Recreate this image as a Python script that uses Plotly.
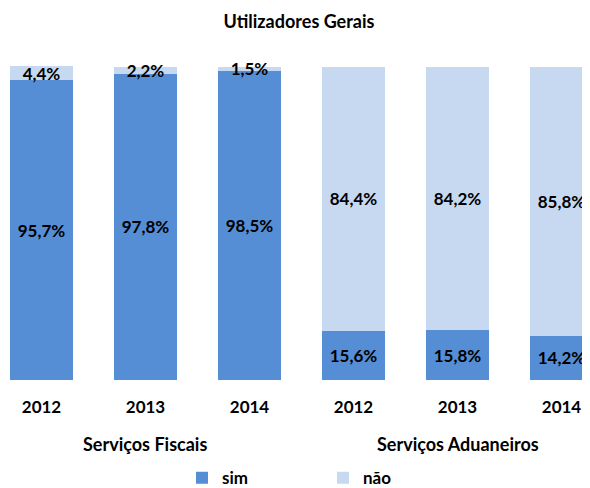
import plotly.graph_objects as go

title = "Utilizadores Gerais"
years = ["2012", "2013", "2014", "2012", "2013", "2014"]
groups = ["Serviços Fiscais", "Serviços Aduaneiros"]
sim = [95.7, 97.8, 98.5, 15.6, 15.8, 14.2]
nao = [4.4, 2.2, 1.5, 84.4, 84.2, 85.8]
series_names = ["sim", "não"]

FONT = "Lato"
DARK = "#558ED5"
LIGHT = "#C6D9F1"

W, H = 582, 480  # page has an 8px body margin

xs = list(range(len(years)))

def fmt(v):
    return f"{v:.1f}".replace(".", ",") + "%"

fig = go.Figure()
for name, vals, col in [(series_names[0], sim, DARK), (series_names[1], nao, LIGHT)]:
    fig.add_trace(go.Bar(
        x=xs, y=vals, name=name, marker=dict(color=col, line=dict(width=0)),
        width=0.606,
        text=[fmt(v) for v in vals], textposition="inside", insidetextanchor="middle",
        textangle=0, constraintext="none", cliponaxis=False,
        textfont=dict(family=FONT, size=17, color="black", weight="bold"),
        hoverinfo="skip",
    ))

fig.update_layout(
    barmode="stack",
    width=W, height=H,
    margin=dict(l=0, r=0, t=58, b=108, autoexpand=False),
    paper_bgcolor="white", plot_bgcolor="white",
    font=dict(family=FONT, color="black"),
    title=dict(text=f"<b>{title}</b>", x=0.5, xanchor="center", y=1 - 14 / H, yanchor="middle",
               font=dict(family=FONT, size=18, color="black")),
    xaxis=dict(range=[-0.322, 5.274], tickvals=xs, ticktext=[f"<b>{y}</b>" for y in years],
               tickfont=dict(family=FONT, size=17, color="black"), showgrid=False, zeroline=False,
               showline=False, ticks="", ticklabelstandoff=15),
    yaxis=dict(range=[0, 100.2], visible=False),
    legend=dict(orientation="h", x=174 / W, xanchor="left", y=-0.3125, yanchor="middle",
                font=dict(family=FONT, size=17, color="black", weight="bold"),
                entrywidth=96, entrywidthmode="pixels", traceorder="normal"),
    showlegend=True,
)

for i, g in enumerate(groups):
    fig.add_annotation(x=1 + 3 * i, xref="x", y=-0.2035, yref="paper", yanchor="middle",
                       text=f"<b>{g}</b>", showarrow=False,
                       font=dict(family=FONT, size=18, color="black"))

fig.write_html("out.html")
